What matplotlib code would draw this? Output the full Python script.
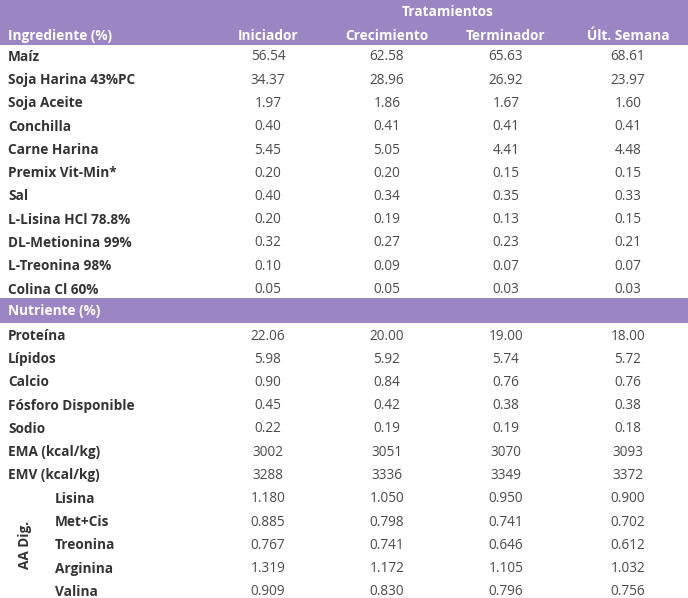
import matplotlib.pyplot as plt
from matplotlib.patches import Rectangle

# --- data ---
tratamientos = ["Iniciador", "Crecimiento", "Terminador", "Últ. Semana"]

ingredientes = ["Maíz", "Soja Harina 43%PC", "Soja Aceite", "Conchilla", "Carne Harina",
                "Premix Vit-Min*", "Sal", "L-Lisina HCl 78.8%", "DL-Metionina 99%",
                "L-Treonina 98%", "Colina Cl 60%"]
ing_iniciador = ["56.54", "34.37", "1.97", "0.40", "5.45", "0.20", "0.40", "0.20", "0.32", "0.10", "0.05"]
ing_crecimiento = ["62.58", "28.96", "1.86", "0.41", "5.05", "0.20", "0.34", "0.19", "0.27", "0.09", "0.05"]
ing_terminador = ["65.63", "26.92", "1.67", "0.41", "4.41", "0.15", "0.35", "0.13", "0.23", "0.07", "0.03"]
ing_ult_semana = ["68.61", "23.97", "1.60", "0.41", "4.48", "0.15", "0.33", "0.15", "0.21", "0.07", "0.03"]

nutrientes = ["Proteína", "Lípidos", "Calcio", "Fósforo Disponible", "Sodio",
              "EMA (kcal/kg)", "EMV (kcal/kg)"]
nut_iniciador = ["22.06", "5.98", "0.90", "0.45", "0.22", "3002", "3288"]
nut_crecimiento = ["20.00", "5.92", "0.84", "0.42", "0.19", "3051", "3336"]
nut_terminador = ["19.00", "5.74", "0.76", "0.38", "0.19", "3070", "3349"]
nut_ult_semana = ["18.00", "5.72", "0.76", "0.38", "0.18", "3093", "3372"]

aminoacidos = ["Lisina", "Met+Cis", "Treonina", "Arginina", "Valina"]
aa_iniciador = ["1.180", "0.885", "0.767", "1.319", "0.909"]
aa_crecimiento = ["1.050", "0.798", "0.741", "1.172", "0.830"]
aa_terminador = ["0.950", "0.741", "0.646", "1.105", "0.796"]
aa_ult_semana = ["0.900", "0.702", "0.612", "1.032", "0.756"]

# --- style ---
purple = "#9b85c3"
text_col = "#333333"
val_col = "#4a4a4a"
plt.rcParams['font.family'] = ['Open Sans', 'DejaVu Sans']

fig = plt.figure(figsize=(6.88, 5.98), dpi=100)
ax = fig.add_axes([0, 0, 1, 1])
ax.set_xlim(0, 688)
ax.set_ylim(598, 0)
ax.axis('off')

col_x = [268, 387, 506, 628]
row0 = 57
step = 23.25


def row_y(k):
    return row0 + k * step


fs = 9.8

# header band
ax.add_patch(Rectangle((0, 0), 688, 45, color=purple, lw=0))
ax.text(448, row_y(-2) + 1, "Tratamientos", ha='center', va='center', color='white',
        fontsize=fs, fontweight='bold')
ax.text(8, row_y(-1) + 2, "Ingrediente (%)", ha='left', va='center', color='white',
        fontsize=fs, fontweight='bold')
for x, t in zip(col_x, tratamientos):
    ax.text(x, row_y(-1) + 2, t, ha='center', va='center', color='white',
            fontsize=fs, fontweight='bold')


def draw_rows(labels, cols, start, label_x=8):
    for i, lab in enumerate(labels):
        y = row_y(start + i)
        ax.text(label_x, y, lab, ha='left', va='center', color=text_col,
                fontsize=fs, fontweight='bold')
        for x, col in zip(col_x, cols):
            ax.text(x, y, col[i], ha='center', va='center', color=val_col,
                    fontsize=fs, fontweight='normal')


draw_rows(ingredientes, [ing_iniciador, ing_crecimiento, ing_terminador, ing_ult_semana], 0)

# nutriente band
k_nut = len(ingredientes)
ax.add_patch(Rectangle((0, 298), 688, 25, color=purple, lw=0))
ax.text(8, row_y(k_nut) - 2, "Nutriente (%)", ha='left', va='center', color='white',
        fontsize=fs, fontweight='bold')

draw_rows(nutrientes, [nut_iniciador, nut_crecimiento, nut_terminador, nut_ult_semana], k_nut + 1)

k_aa = k_nut + 1 + len(nutrientes)
draw_rows(aminoacidos, [aa_iniciador, aa_crecimiento, aa_terminador, aa_ult_semana], k_aa, label_x=55)
ax.text(25, (row_y(k_aa) + row_y(k_aa + len(aminoacidos) - 1)) / 2, "AA Dig.",
        ha='center', va='center', rotation=90, color=text_col, fontsize=fs, fontweight='bold')

fig.savefig("out.png", dpi=100, facecolor='white')
